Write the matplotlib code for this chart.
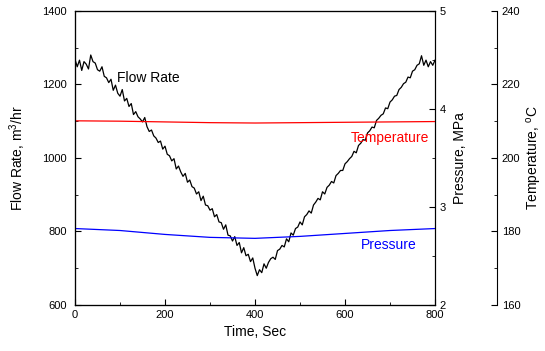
import matplotlib
matplotlib.use("Agg")
import matplotlib.pyplot as plt
from matplotlib.ticker import MultipleLocator

plt.rcParams['font.family'] = ['Liberation Sans', 'DejaVu Sans']
plt.rcParams['mathtext.fontset'] = 'custom'
plt.rcParams['mathtext.rm'] = 'Liberation Sans'
plt.rcParams['mathtext.it'] = 'Liberation Sans'

flow_time = list(range(0, 805, 5))
flow_rate = [1268, 1248, 1266, 1238, 1262, 1255, 1242, 1280, 1262,
             1258, 1240, 1236, 1248, 1222, 1218, 1205, 1214, 1184, 1198,
             1176, 1168, 1186, 1155, 1162, 1140, 1148, 1118, 1126, 1112,
             1106, 1098, 1110, 1085, 1072, 1076, 1060, 1054, 1042, 1046,
             1024, 1032, 1010, 1006, 992, 998, 970, 978, 962, 950,
             958, 934, 940, 922, 918, 902, 908, 884, 896, 872,
             870, 858, 862, 840, 846, 826, 824, 806, 818, 790,
             788, 774, 786, 762, 770, 742, 756, 734, 738, 718,
             728, 700, 680, 696, 688, 712, 700, 716, 726, 730,
             724, 748, 752, 762, 758, 780, 772, 796, 790, 808,
             812, 826, 818, 840, 846, 856, 850, 872, 880, 890,
             886, 908, 902, 920, 926, 936, 932, 952, 958, 966,
             966, 984, 990, 998, 1004, 1018, 1014, 1034, 1040, 1050,
             1048, 1068, 1074, 1084, 1082, 1102, 1108, 1116, 1120, 1136,
             1134, 1152, 1158, 1168, 1170, 1186, 1192, 1202, 1206, 1220,
             1218, 1236, 1240, 1252, 1256, 1278, 1252, 1266, 1248, 1262,
             1252, 1266]

slow_time = [0, 100, 200, 300, 400, 500, 600, 700, 800]
temperature = [210.1, 210.0, 209.8, 209.6, 209.5, 209.6, 209.7, 209.8, 209.9]
pressure = [2.78, 2.76, 2.72, 2.69, 2.68, 2.70, 2.73, 2.76, 2.78]

fig = plt.figure(figsize=(5.45, 3.51), dpi=100)
ax = fig.add_axes([0.1376, 0.131, 0.6606, 0.838])
ax.plot(flow_time, flow_rate, color='black', lw=0.9)
ax.set_xlim(0, 800)
ax.set_ylim(600, 1400)
ax.xaxis.set_major_locator(MultipleLocator(200))
ax.xaxis.set_minor_locator(MultipleLocator(100))
ax.yaxis.set_major_locator(MultipleLocator(200))
ax.yaxis.set_minor_locator(MultipleLocator(100))
ax.tick_params(which='both', direction='in', labelsize=8, top=False, right=False)
ax.tick_params(axis='y', pad=6)
ax.tick_params(which='major', length=4)
ax.tick_params(which='minor', length=2.5)
ax.set_xlabel('Time, Sec', fontsize=10, labelpad=4)
ax.set_ylabel('Flow Rate, m$^3$/hr', fontsize=10, labelpad=10)

ax2 = ax.twinx()
ax2.plot(slow_time, pressure, color='blue', lw=0.9)
ax2.set_ylim(2, 5)
ax2.yaxis.set_major_locator(MultipleLocator(1))
ax2.yaxis.set_minor_locator(MultipleLocator(0.5))
ax2.tick_params(which='both', direction='in', labelsize=8)
ax2.tick_params(which='major', length=4)
ax2.tick_params(which='minor', length=2.5)
ax2.set_ylabel('Pressure, MPa', fontsize=10, labelpad=5)

ax3 = ax.twinx()
ax3.spines['right'].set_position(('axes', 1.172))
ax3.plot(slow_time, temperature, color='red', lw=0.9)
ax3.set_ylim(160, 240)
ax3.yaxis.set_major_locator(MultipleLocator(20))
ax3.yaxis.set_minor_locator(MultipleLocator(10))
ax3.tick_params(which='both', direction='in', labelsize=8)
ax3.tick_params(which='major', length=4)
ax3.tick_params(which='minor', length=2.5)
ax3.set_ylabel(r'Temperature, $^{\mathrm{o}}$C', fontsize=10, labelpad=3)

ax.text(162, 1218, 'Flow Rate', fontsize=10, color='black', ha='center', va='center')
ax.text(700, 1055, 'Temperature', fontsize=10, color='red', ha='center', va='center')
ax.text(698, 764, 'Pressure', fontsize=10, color='blue', ha='center', va='center')

fig.savefig('out.png', dpi=100)
